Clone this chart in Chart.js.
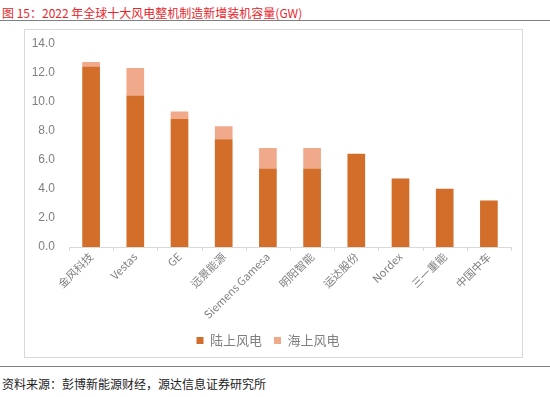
<!DOCTYPE html>
<html>
<head>
<meta charset="utf-8">
<script src="https://cdn.jsdelivr.net/npm/chart.js@4"></script>
<style>
  body { margin: 0; width: 550px; height: 397px; background: #fff; position: relative; overflow: hidden;
         font-family: "Noto Sans CJK SC", "Noto Sans", sans-serif; }
  #title { position: absolute; left: 2px; top: 4px; font-size: 12px; color: #E8262B; white-space: nowrap; }
  #line1 { position: absolute; left: 0; top: 20px; width: 550px; height: 0; border-top: 1.5px solid #808080; }
  #box { position: absolute; left: 24px; top: 29px; width: 497px; height: 327px; border: 1px solid #D9D9D9; }
  #line2 { position: absolute; left: 0; top: 366px; width: 550px; height: 0; border-top: 1.5px solid #808080; }
  #source { position: absolute; left: 2px; top: 375px; font-size: 12px; color: #222; white-space: nowrap; }
</style>
</head>
<body>
<div id="title">图 15：2022 年全球十大风电整机制造新增装机容量(GW)</div>
<div id="line1"></div>
<div id="box"><canvas id="dataChart" width="497" height="327"></canvas></div>
<div id="line2"></div>
<div id="source">资料来源：彭博新能源财经，源达信息证券研究所</div>
<script>
var categories = ['金风科技', 'Vestas', 'GE', '远景能源', 'Siemens Gamesa', '明阳智能', '运达股份', 'Nordex', '三一重能', '中国中车'];
var onshore = [12.4, 10.4, 8.8, 7.4, 5.4, 5.4, 6.4, 4.7, 4.0, 3.2];
var offshore = [0.3, 1.9, 0.5, 0.9, 1.4, 1.4, 0, 0, 0, 0];
var seriesNames = ['陆上风电', '海上风电'];
var yTicks = [0, 2, 4, 6, 8, 10, 12, 14];

var grey = '#7F7F7F';
var ctx = document.getElementById('dataChart').getContext('2d');
var myChart = new Chart(ctx, {
    type: 'bar',
    data: {
        labels: categories,
        datasets: [{
            label: seriesNames[0],
            data: onshore,
            backgroundColor: '#D26D2A',
            barPercentage: 0.4,
            categoryPercentage: 1
        }, {
            label: seriesNames[1],
            data: offshore,
            backgroundColor: '#F1A98B',
            barPercentage: 0.4,
            categoryPercentage: 1
        }]
    },
    options: {
        responsive: false,
        animation: false,
        layout: { padding: { top: 9, right: 11, left: 0, bottom: 0 } },
        plugins: {
            tooltip: { enabled: false },
            legend: {
                position: 'bottom',
                labels: {
                    boxWidth: 7,
                    boxHeight: 7,
                    padding: 12,
                    color: grey,
                    font: { size: 13, family: '"Noto Sans CJK SC"' }
                }
            }
        },
        scales: {
            x: {
                stacked: true,
                grid: { display: false, drawTicks: false },
                border: { color: '#D9D9D9' },
                ticks: {
                    color: grey,
                    maxRotation: 45,
                    minRotation: 45,
                    padding: 3,
                    font: { size: 11, family: '"Noto Sans CJK SC"' }
                },
                afterFit: function (scale) { scale.height = 75; }
            },
            y: {
                stacked: true,
                min: 0,
                max: 14,
                afterBuildTicks: function (scale) {
                    scale.ticks = yTicks.map(function (v) { return { value: v }; });
                },
                grid: { display: false },
                border: { display: false },
                ticks: {
                    color: grey,
                    padding: 6,
                    font: { size: 12, family: '"Liberation Sans"' },
                    callback: function (v) { return v.toFixed(1); }
                },
                afterFit: function (scale) { scale.width = 44; }
            }
        }
    },
    plugins: [{
        id: 'catTicks',
        afterDraw: function (chart) {
            var x = chart.scales.x, c = chart.ctx;
            var y0 = chart.chartArea.bottom;
            var step = (x.right - x.left) / categories.length;
            c.save();
            c.strokeStyle = '#D9D9D9';
            c.lineWidth = 1;
            c.beginPath();
            for (var i = 0; i <= categories.length; i++) {
                var px = Math.round(x.left + i * step) + 0.5;
                c.moveTo(px, y0);
                c.lineTo(px, y0 + 4);
            }
            c.stroke();
            c.restore();
        }
    }]
});
</script>
</body>
</html>
